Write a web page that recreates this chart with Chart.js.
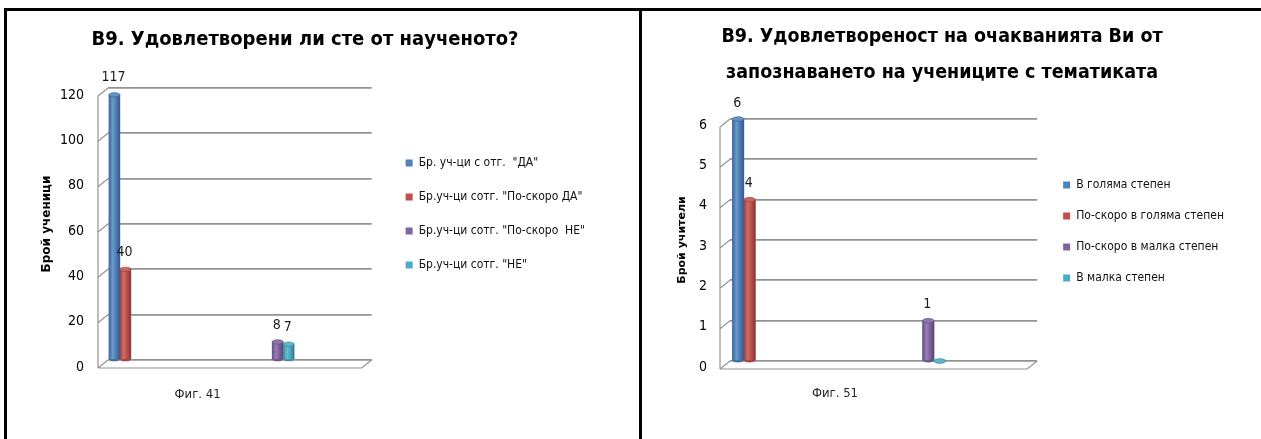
<!DOCTYPE html>
<html lang="bg"><head><meta charset="utf-8"><title>В9</title>
<script src="https://cdn.jsdelivr.net/npm/chart.js@4.4.1/dist/chart.umd.min.js"></script>
<style>
html,body{margin:0;padding:0;background:#fff;}
body{width:1261px;height:439px;overflow:hidden;position:relative;}
.rule{position:absolute;background:#000;z-index:5;}
canvas{position:absolute;top:0;}
</style></head><body>
<div class="rule" style="left:4px;top:8px;width:1257px;height:3px"></div>
<div class="rule" style="left:4px;top:8px;width:3px;height:431px"></div>
<div class="rule" style="left:639px;top:8px;width:3px;height:431px"></div>
<canvas id="chartL"></canvas>
<canvas id="chartR"></canvas>
<script>
// ---------- data: left chart (Фиг. 41) ----------
const leftTitle = ['В9. Удовлетворени ли сте от наученото?'];
const leftYAxisTitle = 'Брой ученици';
const leftCaption = 'Фиг. 41';
const leftSeries = ['Бр. уч-ци с отг.  "ДА"', 'Бр.уч-ци сотг. "По-скоро ДА"', 'Бр.уч-ци сотг. "По-скоро  НЕ"', 'Бр.уч-ци сотг. "НЕ"'];
const leftValues = [117, 40, 8, 7];
const leftGroupLabels = ['ДА / По-скоро ДА', 'По-скоро НЕ / НЕ'];
const leftGroupOf = [0, 0, 1, 1];
const leftTicks = [0, 20, 40, 60, 80, 100, 120];

// ---------- data: right chart (Фиг. 51) ----------
const rightTitle = ['В9. Удовлетвореност на очакванията Ви от', 'запознаването на учениците с тематиката'];
const rightYAxisTitle = 'Брой учители';
const rightCaption = 'Фиг. 51';
const rightSeries = ['В голяма степен', 'По-скоро в голяма степен', 'По-скоро в малка степен', 'В малка степен'];
const rightValues = [6, 4, 1, 0];
const rightGroupLabels = ['голяма', 'малка'];
const rightGroupOf = [0, 0, 1, 1];
const rightTicks = [0, 1, 2, 3, 4, 5, 6];

const seriesColors = ['#4f81bd', '#c0504d', '#8064a2', '#4bacc6'];

const NARROW = '"Liberation Sans Narrow", "DejaVu Sans Condensed", sans-serif';
const AXIS_TITLE_FONT = '"DejaVu Sans", Verdana, sans-serif';

function shade(hex, f) {
  const n = parseInt(hex.slice(1), 16);
  let r = (n >> 16) & 255, g = (n >> 8) & 255, b = n & 255;
  const t = f < 0 ? 0 : 255, p = Math.abs(f);
  r = Math.round((t - r) * p + r); g = Math.round((t - g) * p + g); b = Math.round((t - b) * p + b);
  return `rgb(${r},${g},${b})`;
}

const depthPlugin = {
  id: 'depth3d',
  beforeDatasetsDraw(chart, args, o) {
    const {ctx, chartArea: a} = chart;
    const y = chart.scales.y;
    ctx.save();
    ctx.strokeStyle = o.color; ctx.lineWidth = o.width;
    ctx.beginPath();
    ctx.moveTo(a.left - o.dx, a.top + o.dy); ctx.lineTo(a.left - o.dx, a.bottom + o.dy);
    y.ticks.forEach(t => { const py = y.getPixelForValue(t.value); ctx.moveTo(a.left - o.dx, py + o.dy); ctx.lineTo(a.left, py); });
    ctx.moveTo(a.left - o.dx, a.bottom + o.dy); ctx.lineTo(a.right - o.dx, a.bottom + o.dy); ctx.lineTo(a.right, a.bottom);
    ctx.stroke();
    ctx.restore();
  }
};

const cylinderPlugin = {
  id: 'cylinder',
  afterDatasetsDraw(chart) {
    const ctx = chart.ctx;
    chart.data.datasets.forEach((ds, i) => {
      const meta = chart.getDatasetMeta(i);
      meta.data.forEach((el, j) => {
        const v = ds.data[j];
        if (v === null || v === undefined) return;
        const {x, y, base, width} = el.getProps(['x', 'y', 'base', 'width'], true);
        const l = x - width / 2, ry = Math.max(1.5, width * 0.2);
        const col = ds.backgroundColor;
        ctx.save();
        ctx.fillStyle = shade(col, -0.15);
        ctx.beginPath(); ctx.ellipse(x, base, width / 2, ry, 0, 0, Math.PI * 2); ctx.fill();
        if (base - y > 0.5) {
          const g = ctx.createLinearGradient(l, 0, l + width, 0);
          g.addColorStop(0, shade(col, -0.2)); g.addColorStop(0.35, shade(col, 0.18));
          g.addColorStop(0.6, col); g.addColorStop(1, shade(col, -0.3));
          ctx.fillStyle = g; ctx.fillRect(l, y, width, base - y);
        }
        ctx.fillStyle = shade(col, 0.12);
        ctx.beginPath(); ctx.ellipse(x, y, width / 2, ry, 0, 0, Math.PI * 2); ctx.fill();
        ctx.strokeStyle = shade(col, -0.25); ctx.lineWidth = 0.6; ctx.stroke();
        ctx.restore();
      });
    });
  }
};

const valueLabelPlugin = {
  id: 'valueLabels',
  afterDatasetsDraw(chart, args, o) {
    const ctx = chart.ctx;
    ctx.save();
    ctx.font = `${o.size}px ${NARROW}`; ctx.fillStyle = '#1a1a1a';
    ctx.textAlign = 'center'; ctx.textBaseline = 'middle';
    chart.data.datasets.forEach((ds, i) => {
      chart.getDatasetMeta(i).data.forEach((el, j) => {
        const v = ds.data[j];
        if (v === null || v === undefined || v === 0) return;
        ctx.fillText(String(v), el.x - 1, el.y - o.gap);
      });
    });
    ctx.restore();
  }
};

const captionPlugin = {
  id: 'caption',
  afterDraw(chart, args, o) {
    const x = chart.scales.x, ctx = chart.ctx;
    const n = x.getLabels().length;
    const cx = (x.getPixelForValue(0) + x.getPixelForValue(n - 1)) / 2 - 4;
    ctx.save();
    ctx.font = `${o.size}px ${NARROW}`; ctx.fillStyle = '#262626';
    ctx.textAlign = 'center'; ctx.textBaseline = 'middle';
    ctx.fillText(o.text, cx, o.y);
    ctx.restore();
  }
};

function makeChart(id, d, s) {
  const legendFont = `${s.legendFs}px ${NARROW}`;
  const m = document.createElement('canvas').getContext('2d'); m.font = legendFont;
  const maxText = Math.max(...d.series.map(t => m.measureText(t).width));
  const legendW = s.legendPad + s.legendBox + s.legendFs / 2 + maxText + 10;
  const legendLeft = s.legendBoxX - s.legendPad;
  const right = legendLeft + legendW;
  const leftPx = Math.round(2 * s.titleCx - right);
  const W = Math.round(right - leftPx);
  const H = Math.round(2 * (s.legendFirstCy - s.legendFs / 2) - s.legendPad + d.series.length * (s.legendFs + s.legendPad));
  const cv = document.getElementById(id);
  cv.width = W; cv.height = H; cv.style.left = leftPx + 'px';
  cv.style.width = W + 'px'; cv.style.height = H + 'px';

  const titleLine = s.titleFs * s.titleLH;
  const tTop = s.titleCy - titleLine / 2;
  const tBottom = s.chartT - tTop - titleLine * d.title.length;
  const yTitleLine = s.yTitleFs * 1.2;

  const datasets = d.series.map((name, i) => ({
    label: name,
    data: d.groups.map((_, k) => (k === d.groupOf[i] ? d.values[i] : null)),
    backgroundColor: seriesColors[i],
    borderWidth: 0
  }));

  return new Chart(cv, {
    type: 'bar',
    data: {labels: d.groups, datasets},
    plugins: [depthPlugin, cylinderPlugin, valueLabelPlugin, captionPlugin],
    options: {
      responsive: false, animation: false, devicePixelRatio: 1, events: [],
      layout: {padding: 0},
      datasets: {bar: {skipNull: true, barThickness: s.barW, grouped: true}},
      plugins: {
        title: {display: true, text: d.title, color: '#000',
          font: {family: NARROW, size: s.titleFs, weight: 'bold', lineHeight: s.titleLH},
          padding: {top: tTop, bottom: tBottom}},
        legend: {display: true, position: 'right', align: 'center', maxWidth: 2000,
          labels: {boxWidth: s.legendBox, boxHeight: s.legendBox, padding: s.legendPad, color: '#111',
            font: {family: NARROW, size: s.legendFs}}},
        tooltip: {enabled: false},
        depth3d: {dx: s.dx, dy: s.dy, color: '#939393', width: 1.2},
        valueLabels: {size: s.labelFs, gap: s.labelGap},
        caption: {text: d.caption, y: s.captionCy, size: s.captionFs}
      },
      scales: {
        x: {type: 'category', position: 'bottom',
          grid: {display: false}, border: {display: false}, ticks: {display: false},
          afterBuildTicks: sc => { sc._startValue = s.catStart; sc._valueRange = s.catRange; },
          afterFit: sc => { sc.height = H - s.chartB; }},
        y: {type: 'linear', position: 'left',
          min: d.ticks[0], max: d.ticks[d.ticks.length - 1],
          grid: {color: '#929292', lineWidth: 1.8, drawTicks: false},
          border: {display: false},
          ticks: {stepSize: d.ticks[1] - d.ticks[0], padding: s.chartL - s.tickRight, labelOffset: s.tickOffset,
            color: '#000', font: {family: NARROW, size: s.tickFs}},
          title: {display: true, text: d.yTitle, color: '#000',
            font: {family: AXIS_TITLE_FONT, size: s.yTitleFs, weight: 'bold', lineHeight: 1.2},
            padding: {top: s.yTitleCx - leftPx - yTitleLine / 2, bottom: 0}},
          afterFit: sc => { sc.width = s.chartL - leftPx; }},
        yPad: {type: 'linear', position: 'right', display: true,
          grid: {display: false}, border: {display: false}, ticks: {display: false},
          afterFit: sc => { sc.width = legendLeft - s.chartR; }}
      }
    }
  });
}

makeChart('chartL',
  {title: leftTitle, yTitle: leftYAxisTitle, caption: leftCaption, series: leftSeries,
   values: leftValues, groups: leftGroupLabels, groupOf: leftGroupOf, ticks: leftTicks},
  {titleCx: 305, titleCy: 40, titleFs: 20, titleLH: 1.2,
   chartL: 108, chartR: 372, chartT: 88, chartB: 360,
   yTitleCx: 47, yTitleFs: 12, tickRight: 84, tickFs: 14, tickOffset: 7,
   legendBoxX: 406, legendFirstCy: 163, legendPad: 22, legendFs: 12, legendBox: 7,
   captionCy: 395, captionFs: 13, dx: 10, dy: 8, barW: 11, labelGap: 17, labelFs: 14,
   catStart: -0.073, catRange: 1.615});

makeChart('chartR',
  {title: rightTitle, yTitle: rightYAxisTitle, caption: rightCaption, series: rightSeries,
   values: rightValues, groups: rightGroupLabels, groupOf: rightGroupOf, ticks: rightTicks},
  {titleCx: 942, titleCy: 37, titleFs: 19.5, titleLH: 1.846,
   chartL: 730, chartR: 1037, chartT: 119, chartB: 361,
   yTitleCx: 682, yTitleFs: 11, tickRight: 707, tickFs: 14, tickOffset: 6,
   legendBoxX: 1063, legendFirstCy: 185, legendPad: 19, legendFs: 12, legendBox: 7,
   captionCy: 394, captionFs: 13, dx: 10, dy: 8, barW: 11.5, labelGap: 16, labelFs: 14,
   catStart: -0.073, catRange: 1.615});
</script></body></html>
